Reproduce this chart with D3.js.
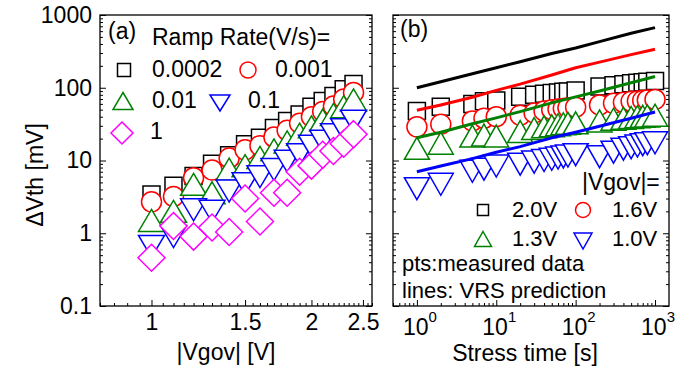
<!DOCTYPE html>
<html>
<head>
<meta charset="utf-8">
<script src="https://cdn.jsdelivr.net/npm/d3@7"></script>
<style>
  body { margin: 0; background: #fff; }
  svg { display: block; }
  text { font-family: "Liberation Sans", Arial, sans-serif; fill: #000; }
</style>
</head>
<body>
<svg id="chart" width="697" height="372"></svg>
<script>
// ---------- panel (a): ΔVth versus |Vgov| for several ramp rates ----------
const gateVoltage = [1.0, 1.1, 1.2, 1.3, 1.4, 1.5, 1.6, 1.7, 1.8, 1.9, 2.0, 2.1, 2.2, 2.3, 2.4];
const ramp0002 = [3.4, 4.5, 6.1, 9.0, 11.8, 16.7, 20.5, 28, 35, 43, 55, 66, 77, 95, 113];
const ramp001  = [2.7, 3.2, 5.8, 7.4, 10.8, 14, 16, 21, 26, 32.5, 40, 47, 56, 70, 86];
const ramp01   = [1.5, 2.0, 4.7, 3.6, 7.6, 8.5, 11, 14, 18, 23, 29, 36, 43, 55, 68];
const ramp1    = [0.66, 0.9, 2.1, 2.0, 3.8, 4.8, 6.0, 7.5, 9.8, 12, 15.7, 18.4, 22.6, 26.5, 34.7];
const ramp10   = [0.46, 1.26, 0.9, 1.2, 1.04, 3.0, 1.45, 3.6, 3.6, 7.0, 8.5, 12, 13.5, 17, 23];
const rampLabels = ["0.0002", "0.001", "0.01", "0.1", "1"];

// ---------- panel (b): ΔVth versus stress time at fixed |Vgov| ----------
const stressTime = [1, 2, 5, 7, 10, 20, 30, 40, 50, 60, 70, 80, 100, 200, 300, 400, 500, 600, 700, 800, 1000];
const meas20V = [48, 55, 60, 65, 67, 75, 80, 83, 85, 86, 88, 89, 92, 104, 108, 112, 115, 117, 119, 121, 124];
const meas16V = [29, 31.5, 35, 38, 40, 42, 45, 48, 50, 51, 52, 53, 54, 58, 61, 63, 65, 66, 67, 68, 69];
const meas13V = [14.7, 17.3, 21.7, 22.4, 21.7, 25, 27.5, 29, 30, 31, 32, 32.5, 33, 35, 37, 38, 39, 40, 40.5, 41, 42];
const meas10V = [4.1, 4.7, 7.1, 7.6, 8.4, 8.9, 9.5, 10, 10.4, 10.8, 11.2, 11.5, 12, 11.3, 13, 14.3, 15, 15.8, 16.5, 17, 17.5];

const predTime = [1, 2, 5, 10, 20, 50, 100, 200, 500, 1000];
const pred20V = [100, 121, 156, 188, 228, 295, 352, 430, 560, 670];
const pred16V = [49, 58, 74, 92, 112, 150, 188, 225, 285, 338];
const pred13V = [20.5, 24.5, 32, 38.5, 47, 62, 75, 90, 117, 143];
const pred10V = [7.0, 8.4, 10.6, 13, 15.5, 20.5, 24.5, 29.5, 38, 46.5];
const voltLabels = ["2.0V", "1.6V", "1.3V", "1.0V"];

// ---------- tick labels ----------
const yTickValues = [0.1, 1, 10, 100, 1000];
const yTickLabels = ["0.1", "1", "10", "100", "1000"];
const xaTickValues = [1, 1.5, 2, 2.5];
const xaTickLabels = ["1", "1.5", "2", "2.5"];
const xbTickValues = [1, 10, 100, 1000];
const xbTickExponents = ["0", "1", "2", "3"];

const FONT = 23;
const LEGEND_FONT_B = 22;
const svg = d3.select("#chart");

// shared vertical scale
const y = d3.scaleLog().domain([0.1, 1000]).range([306, 15]);
const xa = d3.scaleLog().domain([0.8, 2.6]).range([100, 372]);
const xb = d3.scaleLog().domain([0.5, 1500]).range([393, 669]);

const colors = { black: "#000000", red: "#ff0000", green: "#008000", blue: "#0000ff", magenta: "#ff00ff" };

// marker path builders (centered at 0,0)
const shapes = {
  square: s => `M${-s/2},${-s/2}h${s}v${s}h${-s}Z`,
  circle: s => { const r = s/2; return `M${-r},0a${r},${r} 0 1,0 ${2*r},0a${r},${r} 0 1,0 ${-2*r},0Z`; },
  up: (w, h) => `M0,${-h/2}L${w/2},${h/2}L${-w/2},${h/2}Z`,
  down: (w, h) => `M${-w/2},${-h/2}L${w/2},${-h/2}L0,${h/2}Z`,
  diamond: (w, h) => `M0,${-h/2}L${w/2},0L0,${h/2}L${-w/2},0Z`
};

// minor tick positions for the log ΔVth axis
const yMinor = [];
[0.1, 1, 10, 100].forEach(d => { for (let k = 2; k <= 9; k++) yMinor.push(d * k); });

function frameAndYAxes(x0, x1, withLabels) {
  const g = svg.append("g");
  // left: major + minor ticks pointing inward
  const left = g.append("g").attr("transform", `translate(${x0},0)`)
    .call(d3.axisLeft(y).tickValues(yTickValues).tickSize(-6).tickPadding(8)
      .tickFormat((d, i) => withLabels ? yTickLabels[i] : ""));
  left.append("g").call(d3.axisLeft(y).tickValues(yMinor).tickSize(-3).tickFormat(""));
  const right = g.append("g").attr("transform", `translate(${x1},0)`)
    .call(d3.axisRight(y).tickValues(yTickValues).tickSize(-6).tickFormat(""));
  right.append("g").call(d3.axisRight(y).tickValues(yMinor).tickSize(-3).tickFormat(""));
  g.selectAll(".domain").remove();
  g.selectAll(".tick line").attr("stroke", "#000").attr("stroke-width", 1);
  g.selectAll(".tick text").attr("font-size", FONT).attr("font-family", "Liberation Sans, Arial, sans-serif").attr("fill", "#000");
  g.append("rect").attr("x", x0).attr("y", 15).attr("width", x1 - x0).attr("height", 291)
    .attr("fill", "none").attr("stroke", "#000").attr("stroke-width", 1.3);
  return g;
}

function marker(g, type, cx, cy, color, w, h, sw) {
  const d = (type === "square" || type === "circle") ? shapes[type](w) : shapes[type](w, h);
  g.append("path").attr("d", d).attr("transform", `translate(${cx},${cy})`)
    .attr("fill", "#fff").attr("stroke", color).attr("stroke-width", sw || 1.5);
}

// ================= panel (a) =================
frameAndYAxes(100, 372, true);
{
  const g = svg.append("g");
  const bottomMinor = d3.range(16, 53).map(k => k * 0.05).filter(v => xaTickValues.every(t => Math.abs(t - v) > 1e-6));
  const bx = g.append("g").attr("transform", "translate(0,306)");
  bx.call(d3.axisBottom(xa).tickValues(xaTickValues).tickSize(-6).tickPadding(8).tickFormat((d, i) => xaTickLabels[i]));
  bx.append("g").call(d3.axisBottom(xa).tickValues(bottomMinor).tickSize(-3).tickFormat(""));
  bx.selectAll(".domain").remove();
  bx.selectAll(".tick line").attr("stroke", "#000");
  bx.selectAll(".tick text").attr("font-size", FONT).attr("font-family", "Liberation Sans, Arial, sans-serif").attr("fill", "#000");

  const series = [
    { vals: ramp0002, type: "square", color: colors.black, w: 17, h: 17 },
    { vals: ramp001, type: "circle", color: colors.red, w: 20, h: 20 },
    { vals: ramp01, type: "up", color: colors.green, w: 26, h: 22 },
    { vals: ramp1, type: "down", color: colors.blue, w: 26, h: 22 },
    { vals: ramp10, type: "diamond", color: colors.magenta, w: 27, h: 27 }
  ];
  const pts = svg.append("g");
  series.forEach(s => {
    s.vals.forEach((v, i) => marker(pts, s.type, xa(gateVoltage[i]), y(v), s.color, s.w, s.h));
  });

  // legend
  const lg = svg.append("g").attr("font-size", FONT);
  lg.append("text").attr("x", 108).attr("y", 39).text("(a)");
  lg.append("text").attr("x", 152).attr("y", 45).text("Ramp Rate(V/s)=");
  marker(lg, "square", 124, 70, colors.black, 13, 13);
  lg.append("text").attr("x", 152).attr("y", 77).text(rampLabels[0]);
  marker(lg, "circle", 248, 70, colors.red, 16, 16);
  lg.append("text").attr("x", 275).attr("y", 77).text(rampLabels[1]);
  marker(lg, "up", 123, 101, colors.green, 20, 17);
  lg.append("text").attr("x", 152).attr("y", 108).text(rampLabels[2]);
  marker(lg, "down", 220, 103, colors.blue, 20, 16);
  lg.append("text").attr("x", 248).attr("y", 108).text(rampLabels[3]);
  marker(lg, "diamond", 122, 133, colors.magenta, 22, 22);
  lg.append("text").attr("x", 150).attr("y", 139).text(rampLabels[4]);

  // axis titles
  svg.append("text").attr("font-size", FONT).attr("text-anchor", "middle")
    .attr("transform", "translate(43,175) rotate(-90)").text("ΔVth [mV]");
  svg.append("text").attr("font-size", FONT).attr("text-anchor", "middle")
    .attr("x", 226).attr("y", 360).text("|Vgov| [V]");
}

// ================= panel (b) =================
frameAndYAxes(393, 669, false);
{
  const bMinor = [];
  [0.1, 1, 10, 100, 1000].forEach(d => { for (let k = 2; k <= 9; k++) { const v = d * k; if (v >= 0.5 && v <= 1500) bMinor.push(v); } });
  const bx = svg.append("g").attr("transform", "translate(0,306)");
  bx.call(d3.axisBottom(xb).tickValues(xbTickValues).tickSize(-6).tickFormat(""));
  bx.append("g").call(d3.axisBottom(xb).tickValues(bMinor).tickSize(-3).tickFormat(""));
  bx.selectAll(".domain").remove();
  bx.selectAll(".tick line").attr("stroke", "#000");
  const tl = svg.append("g").attr("font-size", FONT);
  xbTickValues.forEach((t, i) => {
    const txt = tl.append("text").attr("x", xb(t) + 3).attr("y", 335).attr("text-anchor", "middle");
    txt.append("tspan").text("10");
    txt.append("tspan").attr("font-size", 15).attr("dy", -13).text(xbTickExponents[i]);
  });

  const series = [
    { vals: meas20V, type: "square", color: colors.black, w: 17, h: 17 },
    { vals: meas16V, type: "circle", color: colors.red, w: 20, h: 20 },
    { vals: meas13V, type: "up", color: colors.green, w: 25, h: 22 },
    { vals: meas10V, type: "down", color: colors.blue, w: 25, h: 22 }
  ];
  const pts = svg.append("g");
  series.forEach(s => {
    s.vals.forEach((v, i) => marker(pts, s.type, xb(stressTime[i]), y(v), s.color, s.w, s.h));
  });

  const line = d3.line().x(d => xb(d[0])).y(d => y(d[1]));
  [[pred20V, colors.black], [pred16V, colors.red], [pred13V, colors.green], [pred10V, colors.blue]].forEach(([vals, c]) => {
    svg.append("path").attr("d", line(predTime.map((t, i) => [t, vals[i]])))
      .attr("fill", "none").attr("stroke", c).attr("stroke-width", 3).attr("stroke-linejoin", "round");
  });

  const lg = svg.append("g").attr("font-size", LEGEND_FONT_B);
  lg.append("text").attr("x", 400).attr("y", 37).attr("font-size", FONT).text("(b)");
  lg.append("text").attr("x", 582).attr("y", 190).attr("font-size", FONT).text("|Vgov|=");
  marker(lg, "square", 483, 210, colors.black, 11, 11);
  lg.append("text").attr("x", 512).attr("y", 217).text(voltLabels[0]);
  marker(lg, "circle", 583, 210, colors.red, 15, 15);
  lg.append("text").attr("x", 612).attr("y", 217).text(voltLabels[1]);
  marker(lg, "up", 483, 239, colors.green, 17, 15);
  lg.append("text").attr("x", 512).attr("y", 246).text(voltLabels[2]);
  marker(lg, "down", 583, 241, colors.blue, 18, 16);
  lg.append("text").attr("x", 612).attr("y", 246).text(voltLabels[3]);
  lg.append("text").attr("x", 402).attr("y", 271).text("pts:measured data");
  lg.append("text").attr("x", 402).attr("y", 298).text("lines: VRS prediction");

  svg.append("text").attr("font-size", FONT).attr("text-anchor", "middle")
    .attr("x", 525).attr("y", 361).text("Stress time [s]");
}
</script>
</body>
</html>
